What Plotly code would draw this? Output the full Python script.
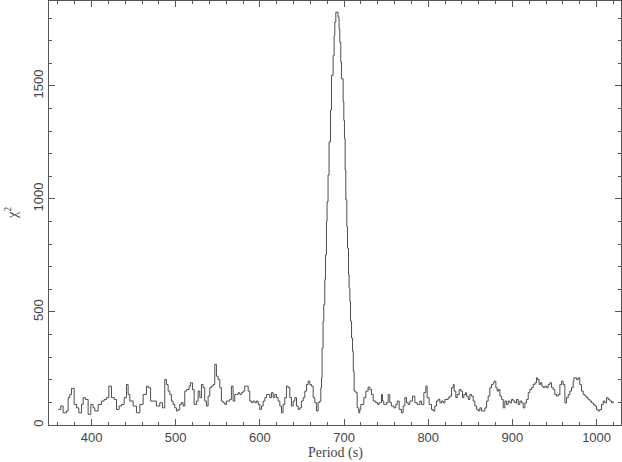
import plotly.graph_objects as go

# Period (s) and chi-square values
period = [
    360.4, 363.5, 366.3, 370.3, 372.2, 374.2, 376.2, 379.4, 382.1, 384.9,
    388.1, 390.1, 392.8, 396.0, 399.2, 401.9, 403.9, 407.9, 411.8, 415.0,
    417.8, 420.6, 423.7, 426.9, 429.7, 432.8, 435.6, 438.8, 441.5, 443.5,
    445.5, 449.5, 453.4, 457.4, 461.3, 465.3, 467.3, 470.2, 473.2, 477.1,
    481.1, 484.2, 487.0, 489.0, 491.0, 493.0, 494.9, 496.9, 498.9, 500.9,
    502.9, 504.8, 506.8, 508.8, 510.8, 512.8, 515.9, 517.5, 519.9, 521.9,
    524.6, 526.6, 528.6, 530.6, 532.6, 534.5, 536.5, 538.5, 540.5, 542.5,
    544.4, 546.4, 548.4, 550.4, 552.4, 554.3, 556.3, 558.3, 560.3, 562.3,
    564.2, 566.2, 568.2, 570.2, 572.2, 574.1, 576.1, 578.1, 580.1, 582.1,
    584.1, 586.1, 588.0, 590.0, 592.0, 594.0, 596.0, 597.9, 599.9, 601.9,
    603.9, 605.9, 607.8, 609.8, 611.8, 613.8, 615.8, 617.7, 619.7, 621.7,
    623.7, 625.7, 627.6, 629.6, 631.6, 633.6, 635.6, 637.5, 639.5, 641.5,
    643.5, 645.5, 647.4, 649.4, 651.4, 653.4, 655.4, 657.3, 659.3, 661.3,
    663.3, 665.3, 667.2, 669.2, 671.2, 672.4, 673.2,
    673.9, 675.1, 675.9, 677.1, 677.9, 679.1, 679.8, 681.0, 682.2, 683.9,
    685.1, 687.0, 688.2, 689.0, 690.2, 692.9, 694.1, 694.9, 696.1, 696.9,
    698.9, 699.7, 700.5, 701.3, 702.1, 703.3, 704.1, 705.3, 706.0, 706.9,
    707.7, 708.9, 710.1, 711.0,
    712.0, 714.0, 715.6, 717.5, 718.7, 719.9, 723.5, 725.9, 728.6, 730.6,
    732.6, 734.6, 737.7, 739.7, 741.7, 744.5, 745.6, 747.2, 750.4, 752.4,
    754.4, 756.3, 759.1, 761.5, 763.1, 765.5, 768.2, 770.2, 772.2, 774.2,
    776.1, 778.1, 781.3, 784.1, 786.8, 790.0, 792.0, 794.8, 797.1, 798.7,
    801.1, 803.9, 805.8, 807.8, 809.8, 811.8, 813.8, 815.8, 817.8, 819.8,
    823.7, 825.7, 827.7, 829.7, 830.8, 832.8, 834.4, 836.8, 838.8, 840.7,
    842.3, 844.3, 845.5, 847.5, 849.5, 851.4, 853.4, 855.4, 857.4, 859.4,
    861.3, 863.3, 867.3, 869.3, 871.2, 873.2, 875.2, 877.2, 878.4, 880.3,
    881.9, 883.5, 885.1, 887.1, 889.1, 891.0, 893.0, 895.0, 897.0, 899.0,
    900.9, 902.9, 904.9, 906.9, 908.9, 910.8, 912.8, 914.8, 916.8, 918.8,
    920.7, 922.7, 924.7, 926.7, 928.7, 929.8, 931.8, 933.4, 935.0, 936.6,
    938.6, 940.5, 942.5, 944.5, 946.5, 948.5, 950.4, 952.4, 954.4, 956.4,
    958.4, 960.3, 962.3, 964.3, 966.3, 968.3, 970.2, 972.2, 973.0, 976.2,
    978.2, 980.1, 982.1, 984.1, 986.1, 988.1, 990.0, 992.0, 994.0, 996.0,
    998.0, 999.9, 1001.9, 1003.9, 1005.9, 1007.9, 1009.8, 1011.8, 1013.8, 1015.8,
    1017.8, 1019.7,
]

chi2 = [
    69, 84, 54, 62, 121, 135, 162, 91, 76, 54,
    91, 121, 113, 47, 91, 76, 62, 91, 106, 113,
    121, 172, 121, 113, 69, 84, 91, 121, 179, 135,
    106, 84, 54, 91, 135, 172, 165, 106, 106, 84,
    99, 76, 201, 179, 150, 135, 106, 91, 76, 62,
    69, 91, 99, 84, 150, 157, 172, 187, 157, 91,
    106, 150, 121, 179, 165, 106, 84, 128, 165, 172,
    179, 268, 216, 201, 165, 106, 99, 91, 106, 106,
    113, 172, 106, 135, 135, 143, 135, 143, 150, 172,
    172, 150, 106, 99, 106, 99, 106, 91, 69, 84,
    106, 121, 135, 135, 121, 143, 121, 135, 121, 106,
    84, 54, 91, 121, 172, 165, 121, 84, 106, 121,
    84, 69, 76, 106, 121, 150, 179, 194, 179, 172,
    121, 99, 62, 99, 106, 165, 209,
    341, 459, 533, 643, 753, 900, 988, 1106, 1253, 1393,
    1547, 1635, 1723, 1782, 1826, 1804, 1753, 1694, 1606, 1532,
    1429, 1348, 1267, 1128, 996, 878, 782, 665, 606, 547,
    459, 385, 326, 238,
    150, 143, 76, 54, 69, 91, 121, 150, 168, 157,
    135, 106, 99, 91, 99, 135, 106, 91, 99, 135,
    99, 84, 76, 91, 106, 69, 54, 84, 121, 99,
    91, 106, 128, 99, 91, 106, 91, 143, 172, 121,
    91, 69, 62, 84, 106, 113, 98, 106, 98, 113,
    121, 128, 165, 179, 150, 121, 135, 157, 150, 121,
    135, 143, 128, 113, 135, 128, 106, 84, 69, 62,
    76, 62, 76, 106, 128, 165, 179, 187, 194, 165,
    150, 157, 128, 113, 76, 106, 91, 106, 98, 113,
    106, 98, 113, 91, 106, 98, 76, 98, 113, 143,
    157, 165, 179, 187, 209, 201, 179, 187, 172, 165,
    172, 165, 179, 187, 165, 157, 135, 128, 135, 179,
    194, 179, 98, 121, 135, 150, 165, 194, 209, 201,
    209, 179, 150, 135, 128, 121, 113, 106, 98, 91,
    84, 69, 62, 69, 91, 106, 98, 121, 113, 106,
    98, 106,
]

x_ticks = [400, 500, 600, 700, 800, 900, 1000]
y_ticks = [0, 500, 1000, 1500]
x_title = "Period (s)"
y_title = "χ<sup>2</sup>"

AX = "#555555"
TXT = "#444444"
SERIF = "Liberation Serif, DejaVu Serif, serif"

fig = go.Figure()
fig.add_trace(go.Scatter(
    x=period, y=chi2, mode="lines",
    line=dict(shape="hv", color="#3a3a3a", width=0.9),
    showlegend=False, hoverinfo="skip",
))

fig.update_layout(
    width=622, height=462,
    margin=dict(l=49, r=1, t=1, b=37, autoexpand=False),
    paper_bgcolor="white", plot_bgcolor="white",
    font=dict(family="Liberation Sans, DejaVu Sans, sans-serif", size=13, color=TXT),
    annotations=[
        dict(text=x_title, xref="paper", yref="paper", x=0.5, y=0,
             xanchor="center", yanchor="middle", yshift=-28, showarrow=False,
             font=dict(family=SERIF, size=14, color=TXT)),
        dict(text=y_title, xref="paper", yref="paper", x=0, y=0.5,
             xanchor="center", yanchor="middle", xshift=-38, textangle=-90,
             showarrow=False, font=dict(family=SERIF, size=14, color=TXT)),
    ],
)

fig.update_xaxes(
    range=[349.5, 1029], tickvals=x_ticks, ticktext=[str(v) for v in x_ticks],
    ticks="inside", ticklen=6, tickwidth=1, tickcolor=AX,
    showline=True, linecolor=AX, linewidth=1, mirror="allticks",
    showgrid=False, zeroline=False, automargin=False,
    minor=dict(ticks="inside", ticklen=3, dtick=20, tick0=0, tickcolor=AX, showgrid=False),
    tickfont=dict(size=13, color=TXT),
)
fig.update_yaxes(
    range=[0, 1876], tickvals=y_ticks, ticktext=[str(v) for v in y_ticks],
    ticks="inside", ticklen=6, tickwidth=1, tickcolor=AX,
    showline=True, linecolor=AX, linewidth=1, mirror="allticks",
    showgrid=False, zeroline=False, tickangle=-90, automargin=False,
    minor=dict(ticks="inside", ticklen=3, dtick=100, tick0=0, tickcolor=AX, showgrid=False),
    tickfont=dict(size=13, color=TXT),
)

fig.write_html(
    "out.html",
    config={"displayModeBar": False, "staticPlot": True},
    post_script="document.body.style.margin='0';document.body.style.overflow='hidden';",
)
